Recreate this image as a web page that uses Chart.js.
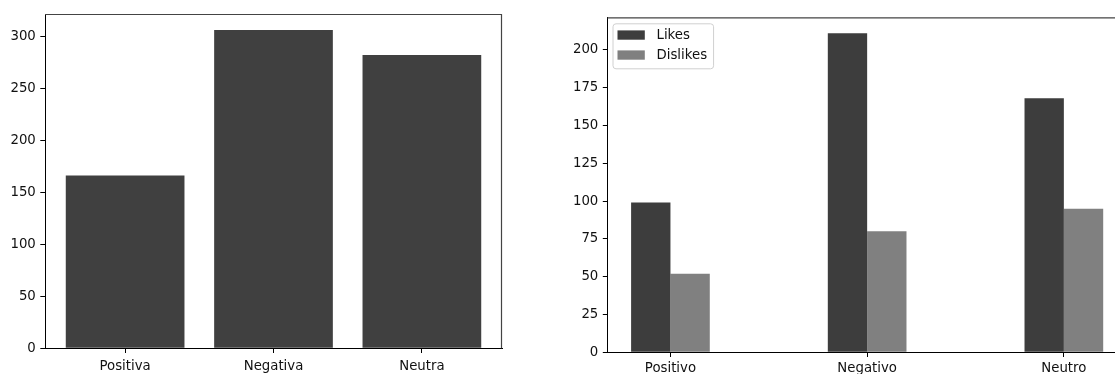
<!DOCTYPE html>
<html><head><meta charset="utf-8">
<script src="https://cdn.jsdelivr.net/npm/chart.js@4/dist/chart.umd.min.js"></script>
<style>
html,body{margin:0;padding:0;background:#fff;overflow:hidden;width:1115px;height:374px;position:relative;}
#c1{position:absolute;left:0;top:0;}
#c2{position:absolute;left:560px;top:0;}
</style></head><body>
<canvas id="c1" width="520" height="374" style="width:520px;height:374px"></canvas>
<canvas id="c2" width="580" height="374" style="width:580px;height:374px"></canvas>
<script>
// ---- data ----
const sentimentCategories = ['Positiva', 'Negativa', 'Neutra'];
const sentimentCounts = [166, 306, 282];
const sentimentTicks = [0, 50, 100, 150, 200, 250, 300];

const reactionCategories = ['Positivo', 'Negativo', 'Neutro'];
const likesValues = [99, 211, 168];
const dislikesValues = [52, 80, 95];
const reactionTicks = [0, 25, 50, 75, 100, 125, 150, 175, 200];
const seriesNames = ['Likes', 'Dislikes'];

Chart.defaults.font.family = 'DejaVu Sans';
Chart.defaults.font.size = 13.3;
Chart.defaults.color = '#111';
Chart.defaults.animation = false;

const framePlugin = {
  id: 'frame',
  afterDraw(chart) {
    const {ctx, chartArea: a} = chart;
    ctx.save();
    ctx.strokeStyle = '#444';
    ctx.lineWidth = 1.2;
    ctx.beginPath();
    ctx.moveTo(a.left, a.top + 0.5);
    ctx.lineTo(a.right - 0.5, a.top + 0.5);
    ctx.lineTo(a.right - 0.5, a.bottom);
    ctx.stroke();
    ctx.restore();
  }
};

const legendPlugin = {
  id: 'boxLegend',
  afterDraw(chart) {
    const o = chart.options.plugins.boxLegend;
    if (!o || !o.show) return;
    const {ctx, chartArea: a} = chart;
    const ds = chart.data.datasets;
    ctx.save();
    ctx.font = '13.3px "DejaVu Sans"';
    let tw = 0;
    ds.forEach(d => { tw = Math.max(tw, ctx.measureText(d.label).width); });
    const x = a.left + 5, y = a.top + 6;
    const w = 5 + 27.3 + 11.7 + tw + 6, h = 45;
    ctx.beginPath();
    ctx.roundRect(x + 0.5, y + 0.5, w, h, 3);
    ctx.fillStyle = 'rgba(255,255,255,0.8)';
    ctx.fill();
    ctx.strokeStyle = '#d0d0d0';
    ctx.lineWidth = 1;
    ctx.stroke();
    ds.forEach((d, i) => {
      const cy = y + 11.7 + i * 20;
      ctx.fillStyle = d.backgroundColor;
      ctx.fillRect(x + 5, cy - 4.6, 27.3, 9.3);
      ctx.fillStyle = '#111';
      ctx.textBaseline = 'middle';
      ctx.textAlign = 'left';
      ctx.fillText(d.label, x + 5 + 27.3 + 11.7, cy + 0.5);
    });
    ctx.restore();
  }
};

function axes(cats, yTicks, yMax, xMin, xMax, yWidth, xHeight, xPad) {
  return {
    x: {
      type: 'linear', min: xMin, max: xMax, z: 1, offset: false,
      afterBuildTicks: s => { s.ticks = cats.map((_, i) => ({value: i})); },
      afterFit: s => { s.height = xHeight; s.paddingLeft = 0; s.paddingRight = 0; },
      ticks: { autoSkip: false, maxRotation: 0, padding: xPad, callback: v => cats[v] },
      grid: { offset: false, drawOnChartArea: false, drawTicks: true, tickLength: 4.7, color: '#000', lineWidth: 1 },
      border: { display: true, color: '#000', width: 1 }
    },
    y: {
      type: 'linear', min: 0, max: yMax, z: 1, offset: false,
      afterBuildTicks: s => { s.ticks = yTicks.map(v => ({value: v})); },
      afterFit: s => { s.width = yWidth; s.paddingTop = 0; s.paddingBottom = 0; },
      ticks: { padding: 4.5, includeBounds: false },
      grid: { offset: false, drawOnChartArea: false, drawTicks: true, tickLength: 4.7, color: '#000', lineWidth: 1 },
      border: { display: true, color: '#000', width: 1 }
    }
  };
}

// ---- left chart ----
{
  const half = 0.4, m = 0.05 * (sentimentCategories.length - 1 + 2 * half);
  new Chart(document.getElementById('c1'), {
    type: 'bar',
    data: {
      datasets: [{
        label: 'count',
        data: sentimentCounts.map((v, i) => ({x: i, y: v})),
        backgroundColor: '#404040',
        borderWidth: 0,
        categoryPercentage: 0.8,
        barPercentage: 1
      }]
    },
    options: {
      responsive: false,
      devicePixelRatio: 1,
      layout: { padding: { left: 0, top: 14, right: 18, bottom: 0 } },
      plugins: { legend: { display: false }, tooltip: { enabled: false } },
      scales: axes(sentimentCategories, sentimentTicks, Math.max(...sentimentCounts) * 1.05,
                   -half - m, sentimentCategories.length - 1 + half + m, 45, 25.7, 5.5)
    },
    plugins: [framePlugin]
  });
}

// ---- right chart ----
{
  const half = 0.2, m = 0.05 * (reactionCategories.length - 1 + 2 * half);
  new Chart(document.getElementById('c2'), {
    type: 'bar',
    data: {
      datasets: [
        { label: seriesNames[0], data: likesValues.map((v, i) => ({x: i, y: v})),
          backgroundColor: '#3d3d3d', borderWidth: 0, categoryPercentage: 0.4, barPercentage: 1 },
        { label: seriesNames[1], data: dislikesValues.map((v, i) => ({x: i, y: v})),
          backgroundColor: '#808080', borderWidth: 0, categoryPercentage: 0.4, barPercentage: 1 }
      ]
    },
    options: {
      responsive: false,
      devicePixelRatio: 1,
      layout: { padding: { left: 0, top: 17.3, right: 13.2, bottom: 0 } },
      plugins: { legend: { display: false }, tooltip: { enabled: false }, boxLegend: { show: true } },
      scales: axes(reactionCategories, reactionTicks,
                   Math.max(...likesValues, ...dislikesValues) * 1.05,
                   -half - m, reactionCategories.length - 1 + half + m, 47.5, 21.7, 3.5)
    },
    plugins: [framePlugin, legendPlugin]
  });
}
</script>
</body></html>
